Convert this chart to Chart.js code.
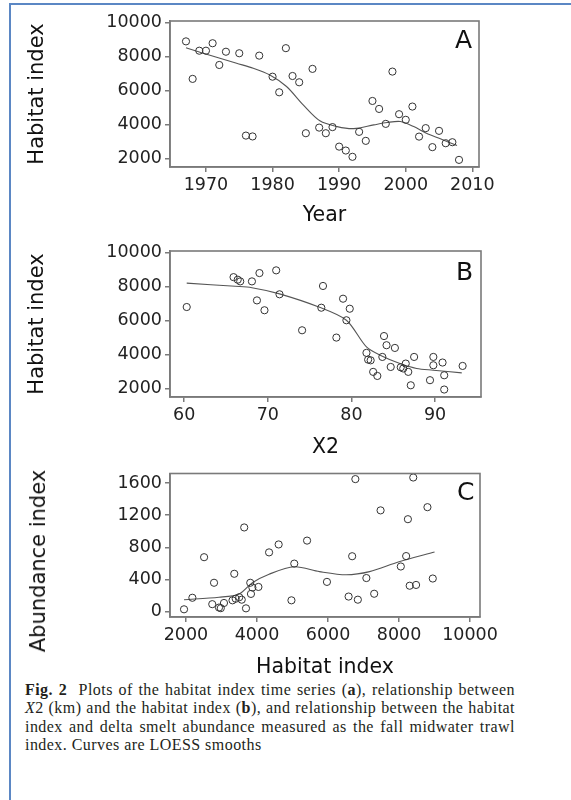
<!DOCTYPE html>
<html>
<head>
<meta charset="utf-8">
<script src="https://cdn.jsdelivr.net/npm/chart.js@4.4.1/dist/chart.umd.min.js"></script>
<style>
  body { margin:0; background:#fff; width:571px; height:800px; position:relative; overflow:hidden; }
  #frame { position:absolute; left:9px; top:3px; width:600px; height:820px; border-left:2px solid #5b87c4; border-top:2px solid #5b87c4; }
  canvas { position:absolute; left:0; }
  .letra { position:absolute; font-family:"DejaVu Sans", sans-serif; font-size:25px; color:#111; }
  .titulo { position:absolute; font-family:"DejaVu Sans", sans-serif; font-size:21px; color:#111; white-space:nowrap; transform:translate(-50%,-50%) rotate(-90deg); }
  #caption { position:absolute; left:25px; top:681px; width:490px; font-family:"Liberation Serif", serif; font-size:16px; line-height:18.4px; letter-spacing:0.45px; color:#231f20; }
  #caption div { text-align:justify; text-align-last:justify; white-space:nowrap; }
  #caption div.ult { text-align-last:left; }
</style>
</head>
<body>
<div id="frame"></div>
<canvas id="graficoA" width="571" height="230" style="top:0px"></canvas>
<canvas id="graficoB" width="571" height="230" style="top:230px"></canvas>
<canvas id="graficoC" width="571" height="220" style="top:460px"></canvas>
<div class="letra" style="left:455px; top:25px">A</div>
<div class="letra" style="left:456px; top:257px">B</div>
<div class="letra" style="left:457px; top:477px">C</div>
<div class="titulo" style="left:38px; top:561px">Abundance index</div>
<div id="caption">
  <div><b>Fig. 2</b>&nbsp; Plots of the habitat index time series (<b>a</b>), relationship between</div>
  <div><i>X</i>2 (km) and the habitat index (<b>b</b>), and relationship between the habitat</div>
  <div>index and delta smelt abundance measured as the fall midwater trawl</div>
  <div class="ult">index. Curves are LOESS smooths</div>
</div>
<script>
// panel A: habitat index by year
const yearA = [1967,1968,1969,1970,1971,1972,1973,1975,1976,1977,1978,1980,1981,1982,1983,1984,1985,1986,1987,1988,1989,1990,1991,1992,1993,1994,1995,1996,1997,1998,1999,2000,2001,2002,2003,2004,2005,2006,2007,2008];
const habitatA = [8900,6690,8350,8350,8790,7510,8290,8200,3350,3300,8060,6820,5900,8500,6860,6490,3490,7280,3820,3490,3850,2700,2470,2100,3570,3040,5390,4920,4040,7120,4610,4280,5060,3290,3790,2670,3630,2900,2960,1920];
const loessYearA = [1967,1969.6,1974.6,1977.1,1979.6,1982.1,1984.6,1987.1,1989.7,1992.2,1995.2,1997.2,1999.2,2001.2,2003.1,2005.2,2007.7];
const loessHabitatA = [8530,8200,7610,7320,6920,6240,5160,4220,3880,3760,3980,4120,4180,3880,3490,3160,2760];
const yTicksA = [2000,4000,6000,8000,10000];
const xTicksA = [1970,1980,1990,2000,2010];

// panel B: habitat index vs X2 (km)
const x2B = [60.3,65.9,66.4,66.7,68.1,69.0,68.7,69.6,71.0,71.4,74.1,76.6,76.4,79.0,79.8,79.4,78.2,81.8,82.3,82.6,83.1,83.9,84.2,85.2,83.7,84.7,86.2,86.5,86.8,87.5,87.1,89.4,89.8,89.8,90.9,91.1,91.1,93.3,82.0,85.9];
const habitatB = [6800,8560,8410,8310,8310,8800,7190,6610,8960,7550,5430,8040,6760,7290,6700,6020,5000,4100,3660,2980,2740,5090,4550,4390,3860,3270,3180,3470,2980,3860,2190,2490,3860,3370,3530,2780,1940,3330,3700,3250];
const loessX2B = [60.3,66.1,68.1,71.3,76.1,79.4,81.8,83.7,85.8,87.8,89.8,93.2];
const loessHabitatB = [8210,8020,7940,7590,6800,6020,4450,3900,3470,3180,3080,2920];
const yTicksB = [2000,4000,6000,8000,10000];
const xTicksB = [60,70,80,90];

// panel C: abundance index vs habitat index
const habitatC = [1945,2180,2510,2790,2740,2930,2980,3070,3360,3310,3400,3500,3570,3640,3690,3810,3830,3870,4040,4340,4610,5050,4970,5410,5970,6580,6840,6680,6770,7080,7480,8250,8400,8800,8200,8050,7300,8300,8480,8950];
const abundanceC = [26,170,676,357,90,48,40,105,469,138,158,177,146,1047,38,357,218,297,305,736,835,596,138,883,368,185,146,688,1650,416,1260,1150,1670,1300,690,560,220,320,330,410];
const loessHabitatC = [1945,2930,3500,3870,4340,5050,5760,6510,7170,8000,9000];
const loessAbundanceC = [146,177,218,357,464,556,496,457,496,620,740];
const yTicksC = [0,400,800,1200,1600];
const xTicksC = [2000,4000,6000,8000,10000];

const marco = {
  id: 'marco',
  afterDraw(chart) {
    const a = chart.chartArea;
    const ctx = chart.ctx;
    ctx.save();
    ctx.strokeStyle = '#7a7a7a';
    ctx.lineWidth = 1.6;
    ctx.strokeRect(a.left, a.top, a.right - a.left, a.bottom - a.top);
    ctx.restore();
  }
};

function puntos(xs, ys) { return xs.map((x, i) => ({x: x, y: ys[i]})); }

function panel(id, p) {
  const ctx = document.getElementById(id);
  return new Chart(ctx, {
    type: 'scatter',
    data: {
      datasets: [
        {data: puntos(p.x, p.y), pointStyle: 'circle', pointRadius: 3.6, borderColor: '#333', borderWidth: 1, backgroundColor: 'rgba(0,0,0,0)', showLine: false},
        {data: puntos(p.lx, p.ly), showLine: true, pointRadius: 0, borderColor: '#555', borderWidth: 1.1, fill: false, tension: 0.3}
      ]
    },
    options: {
      responsive: false,
      animation: false,
      layout: {padding: {top: p.top, right: p.right, left: 0, bottom: 0}},
      plugins: {legend: {display: false}, tooltip: {enabled: false}},
      scales: {
        x: {
          type: 'linear', min: p.xmin, max: p.xmax,
          afterBuildTicks: s => { s.ticks = p.xt.map(v => ({value: v})); },
          afterFit: s => { s.height = p.xh; },
          grid: {drawOnChartArea: false, drawTicks: true, tickLength: 5, tickColor: '#7a7a7a', lineWidth: 1.5},
          border: {color: '#7a7a7a', width: 1.6},
          ticks: {color: '#222', font: {family: 'DejaVu Sans', size: 17.5}, padding: 3, maxRotation: 0, callback: v => String(v)},
          title: {display: true, text: p.xtitle, color: '#111', font: {family: 'DejaVu Sans', size: 20.5}, padding: {top: 0, bottom: p.xtp}}
        },
        y: {
          type: 'linear', min: p.ymin, max: p.ymax,
          afterBuildTicks: s => { s.ticks = p.yt.map(v => ({value: v})); },
          afterFit: s => { s.width = 170; },
          grid: {drawOnChartArea: false, drawTicks: true, tickLength: 5, tickColor: '#7a7a7a', lineWidth: 1.5},
          border: {color: '#7a7a7a', width: 1.6},
          ticks: {color: '#222', font: {family: 'DejaVu Sans', size: 17.5}, padding: 3, callback: v => String(v)},
          title: {display: p.ytitle !== '', text: p.ytitle, color: '#111', font: {family: 'DejaVu Sans', size: 21}, padding: {top: 25, bottom: 0}}
        }
      }
    },
    plugins: [marco]
  });
}

panel('graficoA', {x: yearA, y: habitatA, lx: loessYearA, ly: loessHabitatA, xt: xTicksA, yt: yTicksA,
  xmin: 1964.6, xmax: 2011, ymin: 1500, ymax: 10100, top: 21, right: 92, xh: 63, xtp: 2, xtitle: 'Year', ytitle: 'Habitat index'});
panel('graficoB', {x: x2B, y: habitatB, lx: loessX2B, ly: loessHabitatB, xt: xTicksB, yt: yTicksB,
  xmin: 58.3, xmax: 95.5, ymin: 1500, ymax: 10100, top: 21, right: 90, xh: 63, xtp: 0, xtitle: 'X2', ytitle: 'Habitat index'});
// y title of C is an html label, it is longer than the plot
panel('graficoC', {x: habitatC, y: abundanceC, lx: loessHabitatC, ly: loessAbundanceC, xt: xTicksC, yt: yTicksC,
  xmin: 1550, xmax: 10280, ymin: -70, ymax: 1720, top: 7, right: 91, xh: 63, xtp: 0, xtitle: 'Habitat index', ytitle: ''});
</script>
</body>
</html>
